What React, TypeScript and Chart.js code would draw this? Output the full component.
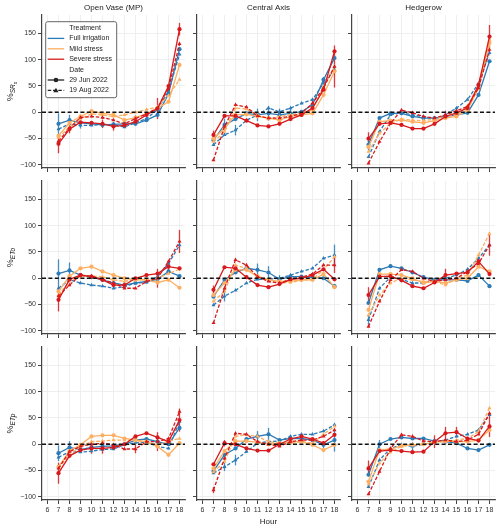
import React, { useEffect, useRef } from 'react';
import { Chart, registerables } from 'chart.js';

Chart.register(...registerables);

const FONT = "'Liberation Sans', Arial, Helvetica, sans-serif";

// ---------- data ----------
const HOURS = [7, 8, 9, 10, 11, 12, 13, 14, 15, 16, 17, 18];
const X_TICKS = [6, 7, 8, 9, 10, 11, 12, 13, 14, 15, 16, 17, 18];
const Y_TICKS = [-100, -50, 0, 50, 100, 150];
const COLUMN_TITLES = ['Open Vase (MP)', 'Central Axis', 'Hedgerow'];
const TREATMENTS = ['Full irrigation', 'Mild stress', 'Severe stress'];
const DATES = ['29 Jun 2022', '19 Aug 2022'];
const TREATMENT_COLORS = ['#2c7bb6', '#fdae61', '#d7191c'];

// series order in each panel: Full Jun, Full Aug, Mild Jun, Mild Aug, Severe Jun, Severe Aug
const SRS_OV = [
  [-22, -15, -20, -22, -24, -23, -22, -22, -15, -5, 35, 120],
  [-32, -22, -25, -25, -23, -24, -28, -20, -12, 5, 40, 110],
  [-45, -20, -8, 2, -2, -5, -15, -10, -3, 8, 20, 90],
  [-48, -28, -12, -3, -5, -8, -5, 0, 5, 10, 32, 62],
  [-60, -32, -19, -20, -22, -27, -25, -18, -5, 7, 50, 158],
  [-55, -30, -10, -8, -10, -15, -22, -12, -3, 8, 45, 130],
];
const SRS_CA = [
  [-53, -24, -13, -2, -5, -2, -5, -2, 1, 14, 62, 103],
  [-62, -43, -34, -15, -5, 8, 1, 8, 17, 24, 55, 81],
  [-50, -31, -5, -4, -8, -11, -15, -8, -5, -2, 33, 78],
  [-56, -37, 8, 6, -5, -13, -8, -5, -2, 4, 49, 87],
  [-43, -7, -7, -16, -25, -27, -22, -13, -5, 8, 43, 116],
  [-91, -27, 14, 10, -7, -11, -11, -8, -2, 17, 46, 87],
];
const SRS_HR = [
  [-62, -11, -2, -2, -8, -11, -11, -8, -5, -1, 33, 97],
  [-85, -37, -5, -1, -5, -8, -13, -5, 8, 24, 55, 113],
  [-66, -18, -16, -15, -18, -20, -16, -11, -8, 4, 46, 132],
  [-75, -40, -21, -13, -15, -16, -13, -7, -5, 12, 52, 138],
  [-50, -22, -20, -24, -31, -31, -22, -8, -1, 8, 52, 144],
  [-97, -56, -21, 4, -1, -8, -11, -5, 3, 11, 46, 119],
];
const ETO_OV = [
  [9, 15, 6, 2, -3, -9, -13, -9, -6, -2, 13, 4],
  [-19, -3, -9, -13, -15, -19, -16, -9, -8, 3, 28, 63],
  [-25, 4, 19, 22, 13, 6, 0, -3, -3, -8, -3, -18],
  [-32, -6, 3, 4, 3, -3, -6, -2, -3, 0, 9, 17],
  [-41, -2, 6, 3, -3, -13, -13, 0, 6, 9, 22, 19],
  [-34, -13, 6, 4, -2, -9, -19, -19, -6, 0, 32, 70],
];
const ETO_CA = [
  [-35, -3, 11, 19, 16, 11, -2, 3, 3, 2, 0, -15],
  [-51, -34, -23, -9, -2, -2, 0, 6, 13, 19, 38, 44],
  [-32, -9, 16, 16, 4, -3, -6, -6, -3, -3, 8, -17],
  [-44, -25, 25, 19, 3, -4, -9, -8, -4, -2, 16, 41],
  [-22, 21, 19, 2, -13, -17, -11, -2, 0, 6, 17, -2],
  [-85, -19, 35, 25, 3, -6, -9, -2, 2, 8, 25, 25],
];
const ETO_HR = [
  [-47, 16, 23, 19, 11, 2, -3, -3, -3, -5, 6, -15],
  [-79, -19, 2, -2, -9, -9, -3, 0, 6, 17, 38, 63],
  [-60, 8, 8, 6, 0, -9, -6, -9, -3, 0, 22, 13],
  [-70, -32, -9, 0, -3, -6, -6, -13, 0, 6, 44, 85],
  [-32, 3, 4, -4, -15, -19, -8, 6, 9, 11, 32, 8],
  [-92, -44, -3, 16, 13, 0, -6, -3, 0, 13, 28, 63],
];
const ETP_OV = [
  [-17, -6, -10, -6, -4, -3, 0, 8, 10, 5, 0, 31],
  [-25, -14, -15, -13, -10, -9, -1, 3, 4, -4, -8, 43],
  [-43, -13, -1, 15, 17, 17, 11, 8, 5, -4, -20, 2],
  [-45, -20, -4, 5, 6, 8, 8, 6, 4, -1, 6, 11],
  [-55, -22, -11, -8, -8, -6, 0, 15, 21, 13, 5, 46],
  [-46, -14, -4, 0, 2, -1, -9, -9, 5, 5, 11, 62],
];
const ETP_CA = [
  [-51, -20, -8, 10, 15, 19, 8, 11, 11, 8, -1, 8],
  [-55, -43, -30, -14, 2, 5, 6, 15, 19, 19, 25, 37],
  [-46, -13, 6, 6, 4, 0, 2, 5, 5, -1, -11, -1],
  [-53, -33, 15, 18, 15, 5, 2, 2, 5, 2, 19, 34],
  [-38, 2, 0, -8, -12, -12, 0, 10, 15, 10, 2, 18],
  [-87, -27, 21, 19, 5, 0, -4, 5, 8, 8, 15, 27],
];
const ETP_HR = [
  [-58, 0, 10, 13, 11, 11, 6, 5, 2, -8, -11, -1],
  [-81, -30, -8, -1, -4, 0, 5, 8, 15, 19, 27, 56],
  [-71, -11, -9, -3, -1, 0, 4, 6, 5, 5, 8, 27],
  [-76, -36, -15, -4, -1, 0, 4, 5, 8, 11, 24, 69],
  [-46, -13, -11, -13, -15, -14, 5, 21, 23, 11, 7, 34],
  [-95, -52, -8, 18, 15, 6, 5, 8, 5, 8, 19, 59],
];

// error bars: [series index, hour, half-width]
const ERR_SRS_OV = [[0, 7, 20], [4, 7, 18], [0, 8, 10], [4, 8, 8], [4, 11, 8], [4, 12, 8], [4, 16, 20], [4, 18, 12], [1, 9, 6], [5, 14, 6]];
const ERR_SRS_CA = [[5, 18, 40], [0, 8, 12], [1, 9, 10], [0, 11, 12], [0, 12, 14], [0, 13, 12], [0, 14, 10], [4, 7, 8], [1, 17, 12], [5, 16, 8]];
const ERR_SRS_HR = [[4, 18, 22], [4, 7, 12], [5, 14, 8], [0, 7, 10], [2, 18, 10]];
const ERR_ETO_OV = [[0, 7, 27], [0, 8, 15], [4, 7, 22], [5, 18, 22], [5, 16, 18], [4, 17, 10], [0, 13, 6]];
const ERR_ETO_CA = [[1, 18, 20], [5, 18, 15], [0, 11, 12], [0, 12, 12], [0, 13, 8], [1, 8, 10], [4, 7, 8]];
const ERR_ETO_HR = [[5, 18, 20], [4, 7, 15], [4, 14, 12], [1, 7, 10], [4, 17, 8]];
const ERR_ETP_OV = [[4, 7, 20], [0, 7, 15], [0, 8, 12], [4, 18, 22], [5, 16, 18], [4, 10, 10], [4, 11, 10], [5, 14, 8]];
const ERR_ETP_CA = [[0, 18, 22], [0, 12, 12], [0, 11, 10], [1, 9, 10], [1, 8, 8], [4, 8, 6], [0, 17, 6], [5, 7, 6]];
const ERR_ETP_HR = [[4, 7, 15], [4, 18, 20], [4, 13, 12], [4, 14, 12], [4, 15, 10], [0, 8, 8], [1, 11, 8]];

const PANEL_VALUES = [
  [SRS_OV, SRS_CA, SRS_HR],
  [ETO_OV, ETO_CA, ETO_HR],
  [ETP_OV, ETP_CA, ETP_HR],
];
const PANEL_ERRORS = [
  [ERR_SRS_OV, ERR_SRS_CA, ERR_SRS_HR],
  [ERR_ETO_OV, ERR_ETO_CA, ERR_ETO_HR],
  [ERR_ETP_OV, ERR_ETP_CA, ERR_ETP_HR],
];
// y labels: main, subscript, sub-subscript
const ROW_LABELS = [
  ['%', 'SR', 's'],
  ['%', 'ETo', ''],
  ['%', 'ETp', ''],
];

// ---------- layout ----------
const COL_LEFT = [42, 197, 352];
const ROW_TOP = [15, 181, 347];
const PLOT_W = 143;
const PLOT_H = 153;
const RIGHT_PAD = 10;

const withAlpha = (hex: string, a: number) => {
  const n = parseInt(hex.slice(1), 16);
  return `rgba(${(n >> 16) & 255},${(n >> 8) & 255},${n & 255},${a})`;
};

const zeroLinePlugin = {
  id: 'zeroLine',
  afterDatasetsDraw(chart: any) {
    const { ctx, chartArea, scales } = chart;
    const y = scales.y.getPixelForValue(0);
    ctx.save();
    ctx.strokeStyle = '#111';
    ctx.lineWidth = 1.3;
    ctx.setLineDash([4, 2.4]);
    ctx.beginPath();
    ctx.moveTo(chartArea.left, y);
    ctx.lineTo(chartArea.right, y);
    ctx.stroke();
    ctx.restore();
  },
};

const errorBarPlugin = {
  id: 'errorBars',
  beforeDatasetsDraw(chart: any, _a: any, opts: any) {
    const { ctx, chartArea, scales } = chart;
    const list: number[][] = opts.list || [];
    const values: number[][] = opts.values || [];
    ctx.save();
    ctx.beginPath();
    ctx.rect(chartArea.left, chartArea.top, chartArea.right - chartArea.left, chartArea.bottom - chartArea.top);
    ctx.clip();
    ctx.lineWidth = 1.3;
    list.forEach(([si, hour, half]) => {
      const k = HOURS.indexOf(hour);
      const v = values[si][k];
      const x = scales.x.getPixelForValue(hour);
      ctx.strokeStyle = withAlpha(TREATMENT_COLORS[Math.floor(si / 2)], 0.85);
      ctx.beginPath();
      ctx.moveTo(x, scales.y.getPixelForValue(v - half));
      ctx.lineTo(x, scales.y.getPixelForValue(v + half));
      ctx.stroke();
    });
    ctx.restore();
  },
};

const panelTextPlugin = {
  id: 'panelText',
  afterDraw(chart: any, _a: any, opts: any) {
    const { ctx, chartArea } = chart;
    ctx.save();
    ctx.fillStyle = '#222';
    if (opts.title) {
      ctx.font = `8px ${FONT}`;
      ctx.textAlign = 'center';
      ctx.textBaseline = 'middle';
      ctx.fillText(opts.title, (chartArea.left + chartArea.right) / 2, chartArea.top - 7);
    }
    if (opts.ylabel) {
      const [main, sub, subsub] = opts.ylabel as string[];
      const parts = [
        { t: main, f: `9px ${FONT}`, dy: 3.2 },
        { t: sub, f: `italic 6.5px ${FONT}`, dy: 5.5 },
        { t: subsub, f: `italic 5px ${FONT}`, dy: 7 },
      ].filter((p) => p.t);
      let total = 0;
      const widths = parts.map((p) => {
        ctx.font = p.f;
        const w = ctx.measureText(p.t).width;
        total += w;
        return w;
      });
      ctx.translate(9.5, (chartArea.top + chartArea.bottom) / 2);
      ctx.rotate(-Math.PI / 2);
      ctx.textAlign = 'left';
      ctx.textBaseline = 'alphabetic';
      let x = -total / 2;
      parts.forEach((p, i) => {
        ctx.font = p.f;
        ctx.fillText(p.t, x, p.dy);
        x += widths[i];
      });
    }
    ctx.restore();
  },
};

const legendPlugin = {
  id: 'panelLegend',
  afterDraw(chart: any, _a: any, opts: any) {
    if (!opts.show) return;
    const { ctx, chartArea } = chart;
    const x0 = chartArea.left + 3.7;
    const y0 = chartArea.top + 6.7;
    const w = 71;
    const h = 76;
    ctx.save();
    ctx.beginPath();
    if (ctx.roundRect) ctx.roundRect(x0, y0, w, h, 2);
    else ctx.rect(x0, y0, w, h);
    ctx.fillStyle = 'rgba(255,255,255,0.92)';
    ctx.fill();
    ctx.strokeStyle = '#555';
    ctx.lineWidth = 0.9;
    ctx.stroke();

    const rowY = (i: number) => y0 + 6.3 + 10.4 * i;
    const textX = x0 + 23.5;
    const hx1 = x0 + 2;
    const hx2 = x0 + 18.5;
    ctx.font = `7px ${FONT}`;
    ctx.textAlign = 'left';
    ctx.textBaseline = 'middle';
    ctx.fillStyle = '#222';
    ctx.fillText('Treatment', textX, rowY(0));
    TREATMENTS.forEach((t, i) => {
      const y = rowY(1 + i);
      ctx.strokeStyle = TREATMENT_COLORS[i];
      ctx.lineWidth = 1.3;
      ctx.setLineDash([]);
      ctx.beginPath();
      ctx.moveTo(hx1, y);
      ctx.lineTo(hx2, y);
      ctx.stroke();
      ctx.fillStyle = '#222';
      ctx.fillText(t, textX, y);
    });
    ctx.fillText('Date', textX, rowY(4));
    DATES.forEach((d, i) => {
      const y = rowY(5 + i);
      ctx.strokeStyle = '#222';
      ctx.fillStyle = '#222';
      ctx.lineWidth = 1.3;
      ctx.setLineDash(i === 1 ? [3.5, 1.8] : []);
      ctx.beginPath();
      ctx.moveTo(hx1, y);
      ctx.lineTo(hx2, y);
      ctx.stroke();
      ctx.setLineDash([]);
      const mx = (hx1 + hx2) / 2;
      ctx.beginPath();
      if (i === 0) {
        ctx.arc(mx, y, 2.3, 0, Math.PI * 2);
      } else {
        ctx.moveTo(mx, y - 2.6);
        ctx.lineTo(mx + 2.6, y + 1.8);
        ctx.lineTo(mx - 2.6, y + 1.8);
        ctx.closePath();
      }
      ctx.fill();
      ctx.fillText(d, textX, y);
    });
    ctx.restore();
  },
};

function Panel({ r, c }: { r: number; c: number }) {
  const ref = useRef<HTMLCanvasElement>(null);
  const yw = c === 0 ? COL_LEFT[0] : 8;
  const tp = r === 0 ? ROW_TOP[0] : 8;
  const xh = r === 2 ? 30 : 8;
  const width = yw + PLOT_W + RIGHT_PAD;
  const height = tp + PLOT_H + xh;
  const left = COL_LEFT[c] - yw;
  const top = ROW_TOP[r] - tp;

  useEffect(() => {
    if (!ref.current) return;
    const values = PANEL_VALUES[r][c];
    const datasets = values.map((series, i) => {
      const t = Math.floor(i / 2);
      const dashed = i % 2 === 1;
      const col = TREATMENT_COLORS[t];
      return {
        label: `${TREATMENTS[t]} ${DATES[i % 2]}`,
        data: HOURS.map((h, k) => ({ x: h, y: series[k] })),
        borderColor: col,
        backgroundColor: col,
        borderWidth: 1.3,
        borderDash: dashed ? [3.5, 1.8] : [],
        pointStyle: dashed ? 'triangle' : 'circle',
        pointRadius: dashed ? 2.3 : 2.1,
        pointBorderWidth: 0,
        pointBackgroundColor: col,
        tension: 0,
        order: 2 - t,
      };
    });
    const gridOpts = {
      color: '#ebebeb',
      lineWidth: 0.8,
      drawTicks: true,
      tickLength: 4,
      tickColor: '#444',
      tickWidth: 1,
    };
    const chart = new Chart(ref.current, {
      type: 'line',
      data: { datasets } as any,
      options: {
        animation: false,
        responsive: false,
        maintainAspectRatio: false,
        events: [],
        layout: { padding: { left: 0, top: tp, right: RIGHT_PAD, bottom: 0 } },
        scales: {
          x: {
            type: 'linear',
            min: 5.5,
            max: 18.5,
            afterBuildTicks: (s: any) => {
              s.ticks = X_TICKS.map((v) => ({ value: v }));
            },
            ticks: {
              display: r === 2,
              font: { size: 7, family: FONT },
              color: '#333',
              padding: 2,
              maxRotation: 0,
              autoSkip: false,
            },
            grid: gridOpts,
            border: { display: true, color: '#444', width: 1.2 },
            title: {
              display: r === 2 && c === 1,
              text: 'Hour',
              font: { size: 8, family: FONT },
              color: '#222',
              padding: { top: 0, bottom: 3 },
            },
            afterFit: (s: any) => {
              s.height = xh;
            },
          },
          y: {
            type: 'linear',
            min: -106,
            max: 185,
            afterBuildTicks: (s: any) => {
              s.ticks = Y_TICKS.map((v) => ({ value: v }));
            },
            ticks: {
              display: c === 0,
              font: { size: 7, family: FONT },
              color: '#333',
              padding: 2,
              callback: (v: any) => (Number(v) < 0 ? '\u2212' + Math.abs(Number(v)) : String(v)),
            },
            grid: gridOpts,
            border: { display: true, color: '#444', width: 1.2 },
            afterFit: (s: any) => {
              s.width = yw;
            },
          },
        },
        plugins: {
          legend: { display: false },
          tooltip: { enabled: false },
          title: { display: false },
          errorBars: { list: PANEL_ERRORS[r][c], values },
          panelText: {
            title: r === 0 ? COLUMN_TITLES[c] : '',
            ylabel: c === 0 ? ROW_LABELS[r] : null,
          },
          panelLegend: { show: r === 0 && c === 0 },
        } as any,
      },
      plugins: [errorBarPlugin, zeroLinePlugin, panelTextPlugin, legendPlugin],
    } as any);
    return () => chart.destroy();
  }, [r, c]);

  return (
    <canvas
      ref={ref}
      width={width}
      height={height}
      style={{ position: 'absolute', left, top, width, height }}
    />
  );
}

export default function App() {
  const cells: React.ReactNode[] = [];
  for (let r = 0; r < 3; r++) {
    for (let c = 0; c < 3; c++) {
      cells.push(<Panel key={`${r}-${c}`} r={r} c={c} />);
    }
  }
  return (
    <div
      style={{
        position: 'absolute',
        left: 0,
        top: 0,
        width: 500,
        height: 530,
        background: '#ffffff',
        overflow: 'hidden',
      }}
    >
      {cells}
    </div>
  );
}
